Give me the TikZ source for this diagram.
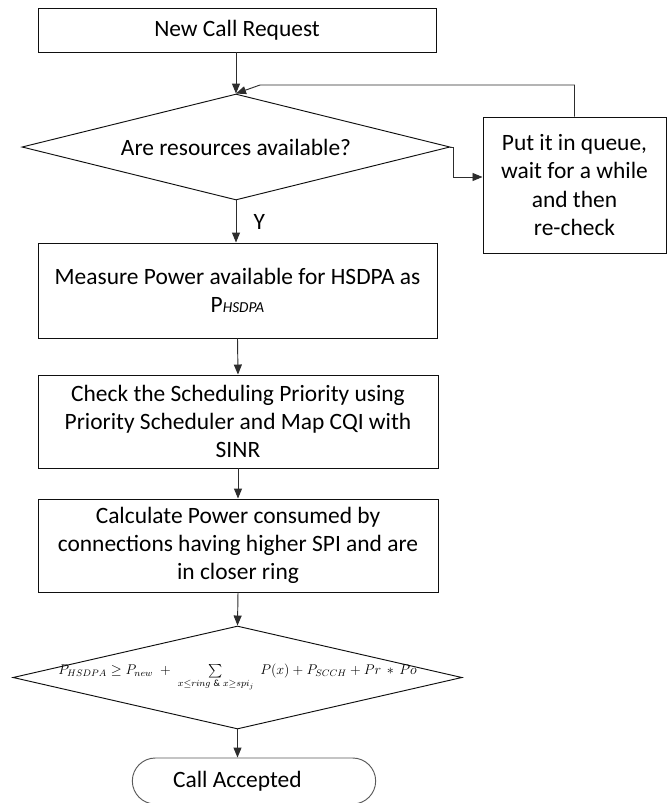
\documentclass[tikz,border=0pt]{standalone}
\usepackage{amsmath,amssymb}
\usepackage{xcolor,tikz,fontspec}
\setmainfont{Carlito}
\usetikzlibrary{arrows.meta,positioning,calc,shapes.geometric,shapes.misc}
\definecolor{ink}{RGB}{15,15,15}
\definecolor{wire}{RGB}{45,45,45}
\definecolor{rim}{RGB}{90,90,90}
\tikzset{
  arr/.style={-{Triangle[length=3mm,width=2.4mm]},line width=0.8pt,draw=wire},
  box/.style={draw=ink,line width=0.8pt,fill=white,align=center,inner sep=0pt,font=\fontsize{20}{24}\selectfont},
  dec/.style={diamond,draw=ink,line width=0.8pt,fill=white,inner sep=0pt,align=center,font=\fontsize{20}{24}\selectfont},
  term/.style={rounded rectangle,draw=rim,line width=0.8pt,fill=white,inner sep=0pt,font=\fontsize{20}{24}\selectfont},
  lab/.style={font=\fontsize{20}{24}\selectfont}
}

\begin{document}
\begin{tikzpicture}[x=0.03cm,y=-0.03cm]
  \clip (0,0) rectangle (669,803);
  \fill[white] (0,0) rectangle (669,803);

  \node[box,minimum width=11.94cm,minimum height=1.32cm] (start) at (237,30) {New Call Request};
  \node[dec,aspect=4,minimum width=12.84cm,minimum height=3.18cm] (avail) at (236,147) {Are resources available?};
  \node[box,minimum width=5.49cm,minimum height=4.08cm] (queue) at (574.5,185) {Put it in queue,\\wait for a while\\and then\\re-check};
  \node[box,minimum width=11.97cm,minimum height=2.85cm] (measure) at (237.5,290.5) {Measure Power available for HSDPA as\\P{\fontsize{13}{13}\selectfont\itshape HSDPA}};
  \node[box,minimum width=12cm,minimum height=2.79cm] (prio) at (238,421.5) {Check the Scheduling Priority using\\Priority Scheduler and Map CQI with\\SINR};
  \node[box,minimum width=12cm,minimum height=2.79cm] (power) at (238,545.5) {Calculate Power consumed by\\connections having higher SPI and are\\in closer ring};
  \node[dec,minimum width=13.47cm,minimum height=3.09cm] (check) at (237.5,677.5) {};
  \node[font=\fontsize{11.5}{13}\selectfont] (cond) at (check.center)
    {$P_{HSDPA}\geq P_{new}\;+\;\sum\limits_{x\leq ring\ \&\ x\geq spi_j}\;P(x)+P_{SCCH}+Pr\,*\,Po$};
  \node[term,minimum width=7.3cm,minimum height=1.38cm] (accept) at (254,781) {Call Accepted\hspace*{1cm}};

  \coordinate (back) at (260,85);
  \draw[arr] (avail.north |- start.south) -- (avail.north);
  \draw[arr] (avail.east) -- ++(3,0) |- ([yshift=0.24cm]queue.west);
  \draw[arr] (queue.north) |- (back) -- (avail.north);
  \draw[arr] (avail.south) -- node[lab,right=0.4cm] (yes) {Y} (avail.south |- measure.north);
  \draw[arr] (measure.south) -- (prio.north);
  \draw[arr] (prio.south) -- (power.north);
  \draw[arr] (power.south) -- (check.north);
  \draw[arr] (check.south) -- (check.south |- accept.north);
\end{tikzpicture}
\end{document}
